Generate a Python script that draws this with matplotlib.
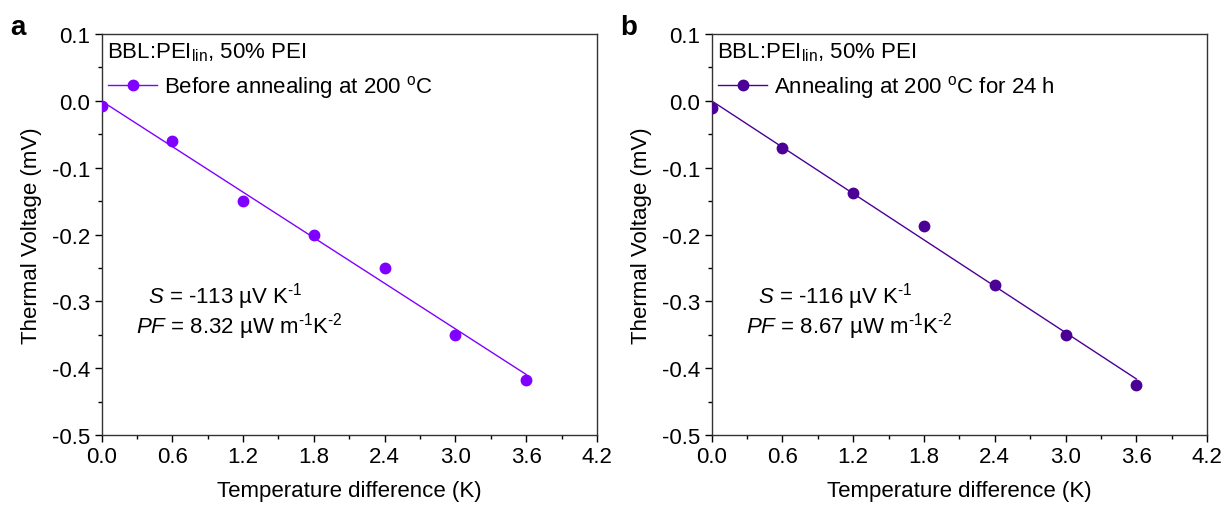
import numpy as np
import matplotlib
matplotlib.use('Agg')
import matplotlib.pyplot as plt
from matplotlib.ticker import MultipleLocator

plt.rcParams['font.family'] = ['Liberation Sans', 'DejaVu Sans']
plt.rcParams['mathtext.fontset'] = 'custom'
plt.rcParams['mathtext.rm'] = 'Liberation Sans'
plt.rcParams['mathtext.it'] = 'Liberation Sans:italic'

# temperature difference (K)
dT = [0.0, 0.6, 1.2, 1.8, 2.4, 3.0, 3.6]
# thermal voltage (mV)
volt_before = [-0.007, -0.060, -0.150, -0.200, -0.250, -0.350, -0.417]
volt_annealed = [-0.010, -0.070, -0.138, -0.188, -0.275, -0.350, -0.425]

panel_letters = ['a', 'b']
series_labels = ['Before annealing at 200 $^\\mathregular{o}$C',
                 'Annealing at 200 $^\\mathregular{o}$C for 24 h']
seebeck_text = ['$\\mathit{S}$ = -113 µV K$^{\\text{-1}}$',
                '$\\mathit{S}$ = -116 µV K$^{\\text{-1}}$']
pf_text = ['$\\mathit{PF}$ = 8.32 µW m$^{\\text{-1}}$K$^{\\text{-2}}$',
           '$\\mathit{PF}$ = 8.67 µW m$^{\\text{-1}}$K$^{\\text{-2}}$']
colors = ['#8000ff', '#4b0096']

fig = plt.figure(figsize=(12.26, 5.06), dpi=100)
ax_a = fig.add_axes([0.0828, 0.1383, 0.4042, 0.7925])
ax_b = fig.add_axes([0.5804, 0.1383, 0.4042, 0.7925])

fs = 16
for k, (ax, yv) in enumerate(zip([ax_a, ax_b], [volt_before, volt_annealed])):
    x = np.array(dT)
    y = np.array(yv)
    c = colors[k]
    slope, icpt = np.polyfit(x, y, 1)
    ax.plot(x, y, 'o', color=c, markersize=7.5, zorder=3)
    ax.plot(x, slope * x + icpt, '-', color=c, lw=1.0)
    # legend proxy: line with marker
    ax.plot([], [], '-o', color=c, lw=1.0, markersize=7.5, label=series_labels[k])

    ax.set_xlim(0, 4.2)
    ax.set_ylim(-0.5, 0.1)
    ax.xaxis.set_major_locator(MultipleLocator(0.6))
    ax.xaxis.set_minor_locator(MultipleLocator(0.3))
    ax.yaxis.set_major_locator(MultipleLocator(0.1))
    ax.yaxis.set_minor_locator(MultipleLocator(0.05))
    ax.set_xticklabels(['%.1f' % v for v in ax.get_xticks()])
    ax.set_yticks(np.arange(-0.5, 0.11, 0.1))
    ax.set_yticklabels(['%.1f' % v if abs(v) > 1e-9 else '0.0' for v in np.arange(-0.5, 0.11, 0.1)])
    ax.tick_params(which='major', direction='out', length=5, width=1, labelsize=fs, pad=3)
    ax.tick_params(which='minor', direction='out', length=3, width=1)
    for s in ax.spines.values():
        s.set_linewidth(1.0)
        s.set_color('#333333')

    ax.set_xlabel('Temperature difference (K)', fontsize=fs, labelpad=9)
    ax.set_ylabel('Thermal Voltage (mV)', fontsize=fs, labelpad=7)

    ax.text(0.011, 0.955, 'BBL:PEI$_\\mathregular{lin}$, 50% PEI', transform=ax.transAxes,
            fontsize=fs, ha='left', va='center')
    ax.legend(loc='center left', bbox_to_anchor=(0.0, 0.868), frameon=False,
              fontsize=fs, handlelength=2.2, handletextpad=0.3, borderpad=0,
              borderaxespad=0.3)
    ax.text(0.094, 0.347, seebeck_text[k], transform=ax.transAxes, fontsize=fs,
            ha='left', va='center')
    ax.text(0.070, 0.272, pf_text[k], transform=ax.transAxes, fontsize=fs,
            ha='left', va='center')

fig.text(0.008, 0.945, panel_letters[0], fontsize=20, fontweight='bold', ha='left', va='center')
fig.text(0.506, 0.945, panel_letters[1], fontsize=20, fontweight='bold', ha='left', va='center')

fig.savefig('out.png', dpi=100)
